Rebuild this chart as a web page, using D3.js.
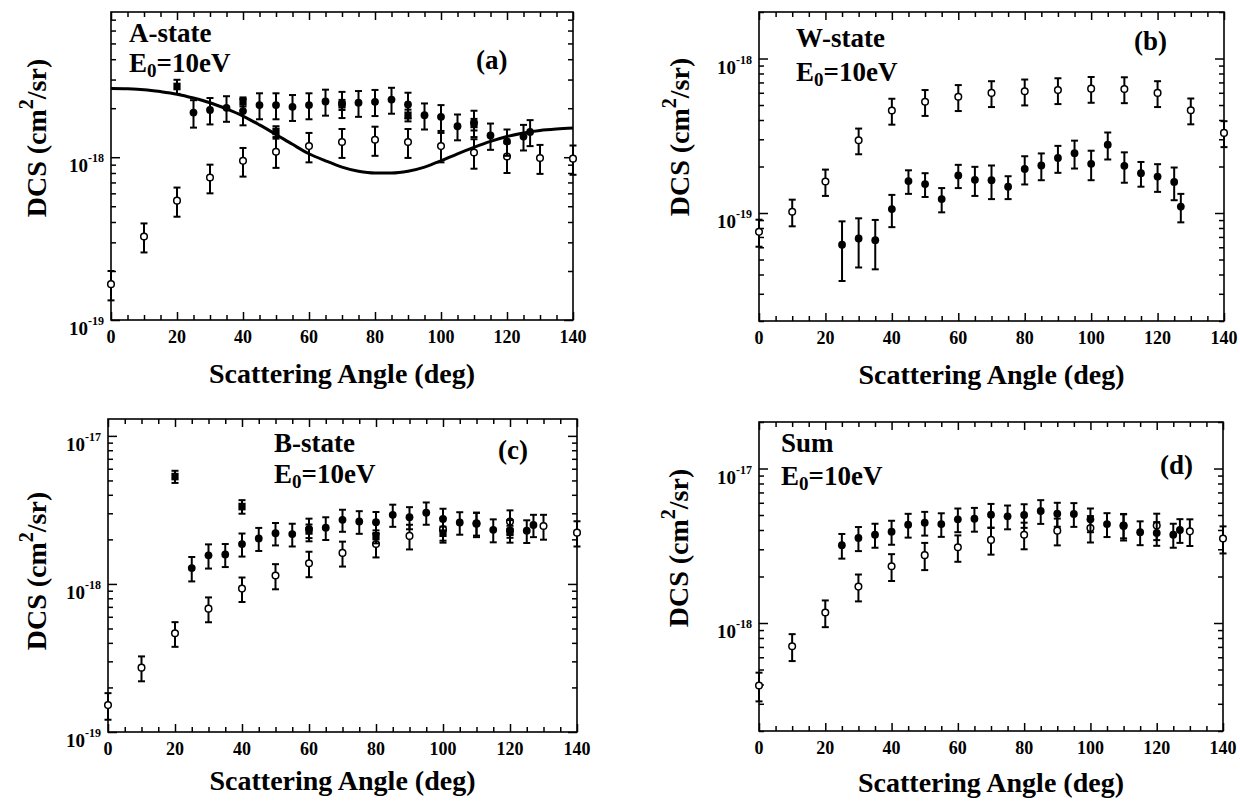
<!DOCTYPE html>
<html>
<head>
<meta charset="utf-8">
<script src="https://cdn.jsdelivr.net/npm/d3@7"></script>
<style>
  body { margin: 0; background: #fff; }
  svg { display: block; font-family: "Liberation Serif", "Times New Roman", serif; font-weight: bold; }
</style>
</head>
<body>
<svg id="fig" width="1240" height="801"></svg>
<script>
// ---- Scattering angles (deg) ----
const angleOpen   = [0, 10, 20, 30, 40, 50, 60, 70, 80, 90, 100, 110, 120, 130, 140];
const angleFilled = [25, 30, 35, 40, 45, 50, 55, 60, 65, 70, 75, 80, 85, 90, 95, 100, 105, 110, 115, 120, 125, 127];
const angleSquareA = [20, 40, 50, 70, 90, 110];
const angleSquareB = [20, 40, 60, 80, 100, 120];
const angleTheory = [0, 5, 10, 15, 20, 25, 30, 35, 40, 45, 50, 55, 60, 65, 70, 75, 80, 85, 90, 95, 100, 105, 110, 115, 120, 125, 130, 135, 140];

// ---- A-state DCS (cm^2/sr) ----
const aOpen     = [1.66e-19, 3.26e-19, 5.41e-19, 7.5e-19, 9.5e-19, 1.08e-18, 1.17e-18, 1.24e-18, 1.28e-18, 1.24e-18, 1.17e-18, 1.07e-18, 1.01e-18, 0.99e-18, 0.98e-18];
const aOpenErr  = [0.34e-19, 0.66e-19, 1.1e-19, 1.5e-19, 1.9e-19, 2.2e-19, 2.4e-19, 2.5e-19, 2.6e-19, 2.5e-19, 2.4e-19, 2.2e-19, 2.1e-19, 2.0e-19, 2.0e-19];
const aFilled    = [1.88e-18, 1.95e-18, 2.01e-18, 1.92e-18, 2.09e-18, 2.09e-18, 2.04e-18, 2.09e-18, 2.20e-18, 2.13e-18, 2.16e-18, 2.19e-18, 2.26e-18, 2.11e-18, 1.81e-18, 1.77e-18, 1.55e-18, 1.63e-18, 1.36e-18, 1.25e-18, 1.34e-18, 1.43e-18];
const aFilledErr = [0.36e-18, 0.36e-18, 0.36e-18, 0.35e-18, 0.38e-18, 0.38e-18, 0.37e-18, 0.38e-18, 0.40e-18, 0.39e-18, 0.39e-18, 0.40e-18, 0.41e-18, 0.38e-18, 0.33e-18, 0.32e-18, 0.28e-18, 0.30e-18, 0.25e-18, 0.23e-18, 0.24e-18, 0.26e-18];
const aSquare    = [2.72e-18, 2.19e-18, 1.44e-18, 2.10e-18, 1.81e-18, 1.59e-18];
const aSquareErr = [0.27e-18, 0.14e-18, 0.11e-18, 0.15e-18, 0.15e-18, 0.13e-18];
const aTheory = [2.64e-18, 2.63e-18, 2.60e-18, 2.53e-18, 2.44e-18, 2.31e-18, 2.16e-18, 1.98e-18, 1.79e-18, 1.58e-18, 1.38e-18, 1.20e-18, 1.05e-18, 0.95e-18, 0.87e-18, 0.82e-18, 0.80e-18, 0.80e-18, 0.82e-18, 0.87e-18, 0.95e-18, 1.05e-18, 1.15e-18, 1.25e-18, 1.34e-18, 1.41e-18, 1.46e-18, 1.49e-18, 1.51e-18];

// ---- W-state ----
const bOpen     = [0.755e-19, 1.02e-19, 1.60e-19, 2.96e-19, 4.61e-19, 5.25e-19, 5.65e-19, 5.99e-19, 6.14e-19, 6.26e-19, 6.38e-19, 6.35e-19, 5.99e-19, 4.63e-19, 3.30e-19];
const bOpenErr  = [0.15e-19, 0.20e-19, 0.31e-19, 0.56e-19, 0.88e-19, 1.0e-19, 1.08e-19, 1.14e-19, 1.17e-19, 1.19e-19, 1.21e-19, 1.21e-19, 1.14e-19, 0.88e-19, 0.63e-19];
const bFilled    = [0.623e-19, 0.684e-19, 0.667e-19, 1.06e-19, 1.61e-19, 1.54e-19, 1.23e-19, 1.75e-19, 1.64e-19, 1.63e-19, 1.48e-19, 1.93e-19, 2.03e-19, 2.27e-19, 2.44e-19, 2.08e-19, 2.77e-19, 2.02e-19, 1.81e-19, 1.72e-19, 1.59e-19, 1.10e-19];
const bFilledErr = [0.26e-19, 0.24e-19, 0.235e-19, 0.25e-19, 0.28e-19, 0.27e-19, 0.22e-19, 0.30e-19, 0.35e-19, 0.40e-19, 0.25e-19, 0.40e-19, 0.40e-19, 0.45e-19, 0.50e-19, 0.45e-19, 0.55e-19, 0.45e-19, 0.33e-19, 0.35e-19, 0.38e-19, 0.23e-19];

// ---- B-state ----
const cOpen     = [1.52e-19, 2.72e-19, 4.64e-19, 6.81e-19, 9.3e-19, 1.14e-18, 1.38e-18, 1.62e-18, 1.86e-18, 2.11e-18, 2.34e-18, 2.55e-18, 2.64e-18, 2.46e-18, 2.22e-18];
const cOpenErr  = [0.31e-19, 0.52e-19, 0.88e-19, 1.3e-19, 1.75e-19, 0.22e-18, 0.27e-18, 0.31e-18, 0.35e-18, 0.40e-18, 0.44e-18, 0.48e-18, 0.50e-18, 0.47e-18, 0.43e-18];
const cFilled    = [1.28e-18, 1.56e-18, 1.58e-18, 1.86e-18, 2.03e-18, 2.20e-18, 2.17e-18, 2.35e-18, 2.40e-18, 2.71e-18, 2.64e-18, 2.61e-18, 2.93e-18, 2.82e-18, 3.03e-18, 2.75e-18, 2.60e-18, 2.57e-18, 2.32e-18, 2.30e-18, 2.29e-18, 2.50e-18];
const cFilledErr = [0.24e-18, 0.29e-18, 0.28e-18, 0.33e-18, 0.36e-18, 0.38e-18, 0.38e-18, 0.41e-18, 0.42e-18, 0.46e-18, 0.46e-18, 0.45e-18, 0.50e-18, 0.48e-18, 0.52e-18, 0.47e-18, 0.45e-18, 0.45e-18, 0.41e-18, 0.40e-18, 0.40e-18, 0.43e-18];
const cSquare    = [5.31e-18, 3.33e-18, 2.28e-18, 2.09e-18, 2.20e-18, 2.26e-18];
const cSquareErr = [0.50e-18, 0.35e-18, 0.24e-18, 0.21e-18, 0.24e-18, 0.21e-18];

// ---- Sum ----
const dOpen     = [3.94e-19, 7.07e-19, 1.17e-18, 1.72e-18, 2.33e-18, 2.75e-18, 3.09e-18, 3.45e-18, 3.73e-18, 3.96e-18, 4.12e-18, 4.25e-18, 4.27e-18, 3.92e-18, 3.52e-18];
const dOpenErr  = [0.83e-19, 1.4e-19, 0.23e-18, 0.34e-18, 0.46e-18, 0.55e-18, 0.60e-18, 0.68e-18, 0.73e-18, 0.78e-18, 0.80e-18, 0.83e-18, 0.83e-18, 0.77e-18, 0.70e-18];
const dFilled    = [3.19e-18, 3.55e-18, 3.73e-18, 3.90e-18, 4.33e-18, 4.46e-18, 4.37e-18, 4.69e-18, 4.73e-18, 5.02e-18, 4.90e-18, 5.00e-18, 5.31e-18, 5.10e-18, 5.08e-18, 4.69e-18, 4.37e-18, 4.29e-18, 3.87e-18, 3.83e-18, 3.73e-18, 4.00e-18];
const dFilledErr = [0.58e-18, 0.63e-18, 0.66e-18, 0.69e-18, 0.76e-18, 0.78e-18, 0.76e-18, 0.82e-18, 0.83e-18, 0.88e-18, 0.86e-18, 0.87e-18, 0.93e-18, 0.90e-18, 0.89e-18, 0.82e-18, 0.77e-18, 0.76e-18, 0.68e-18, 0.67e-18, 0.66e-18, 0.70e-18];

// ---- Axis ticks ----
const xTickLabels = [0, 20, 40, 60, 80, 100, 120, 140];
const xMinorTicks = [5, 10, 15, 25, 30, 35, 45, 50, 55, 65, 70, 75, 85, 90, 95, 105, 110, 115, 125, 130, 135];

const zip = (xs, ys, es) => xs.map((a, i) => ({ a, v: ys[i], e: es ? es[i] : 0 }));

const panels = [
  { left: 111, right: 573, top: 12, bottom: 320, yDom: [1e-19, 7.8e-18],
    state: "A-state", tag: "(a)", stateX: 129, stateY: 42, energyY: 72, tagX: 476, tagY: 69,
    yTitleX: 46, yTitleY: 138, xTitleY: 383,
    open: zip(angleOpen, aOpen, aOpenErr), filled: zip(angleFilled, aFilled, aFilledErr),
    square: zip(angleSquareA, aSquare, aSquareErr), theory: zip(angleTheory, aTheory) },
  { left: 759, right: 1224, top: 12, bottom: 321, yDom: [2e-20, 2e-18],
    state: "W-state", tag: "(b)", stateX: 796, stateY: 47, energyY: 81, tagX: 1134, tagY: 50,
    yTitleX: 689, yTitleY: 137, xTitleY: 384,
    open: zip(angleOpen, bOpen, bOpenErr), filled: zip(angleFilled, bFilled, bFilledErr) },
  { left: 108, right: 577, top: 419, bottom: 732, yDom: [1e-19, 1.3e-17],
    state: "B-state", tag: "(c)", stateX: 274, stateY: 452, energyY: 483, tagX: 498, tagY: 459,
    yTitleX: 46, yTitleY: 571, xTitleY: 790,
    open: zip(angleOpen, cOpen, cOpenErr), filled: zip(angleFilled, cFilled, cFilledErr),
    square: zip(angleSquareB, cSquare, cSquareErr) },
  { left: 759, right: 1223, top: 422, bottom: 731, yDom: [2e-19, 2e-17],
    state: "Sum", tag: "(d)", stateX: 781, stateY: 452, energyY: 485, tagX: 1160, tagY: 474,
    yTitleX: 688, yTitleY: 548, xTitleY: 792,
    open: zip(angleOpen, dOpen, dOpenErr), filled: zip(angleFilled, dFilled, dFilledErr) }
];

const svg = d3.select("#fig");

function decadeTicks(dom) {
  const lo = dom[0] * (1 - 1e-9), hi = dom[1] * (1 + 1e-9);
  const major = [], minor = [];
  for (let e = Math.floor(Math.log10(dom[0])); e <= Math.floor(Math.log10(dom[1])); e++) {
    const base = Math.pow(10, e);
    if (base >= lo && base <= hi) major.push(base);
    for (let k = 2; k <= 9; k++) {
      const v = k * base;
      if (v >= lo && v <= hi) minor.push(v);
    }
  }
  return { major, minor };
}

function styleAxis(sel) {
  sel.select(".domain").remove();
  sel.selectAll(".tick line").attr("stroke", "#000").attr("stroke-width", 1.5);
  sel.selectAll(".tick text").remove();
}

function drawPanel(p) {
  const g = svg.append("g");
  const x = d3.scaleLinear().domain([0, 140]).range([p.left, p.right]);
  const y = d3.scaleLog().domain(p.yDom).range([p.bottom, p.top]);
  const yt = decadeTicks(p.yDom);

  // tick marks on all four sides, pointing inward
  [{ vals: xTickLabels, len: 8 }, { vals: xMinorTicks, len: 5 }].forEach(t => {
    g.append("g").attr("transform", `translate(0,${p.bottom})`)
      .call(d3.axisBottom(x).tickValues(t.vals).tickSizeInner(-t.len).tickSizeOuter(0)).call(styleAxis);
    g.append("g").attr("transform", `translate(0,${p.top})`)
      .call(d3.axisTop(x).tickValues(t.vals).tickSizeInner(-t.len).tickSizeOuter(0)).call(styleAxis);
  });
  [{ vals: yt.major, len: 9 }, { vals: yt.minor, len: 5 }].forEach(t => {
    g.append("g").attr("transform", `translate(${p.left},0)`)
      .call(d3.axisLeft(y).tickValues(t.vals).tickSizeInner(-t.len).tickSizeOuter(0)).call(styleAxis);
    g.append("g").attr("transform", `translate(${p.right},0)`)
      .call(d3.axisRight(y).tickValues(t.vals).tickSizeInner(-t.len).tickSizeOuter(0)).call(styleAxis);
  });

  // frame
  g.append("rect")
    .attr("x", p.left).attr("y", p.top)
    .attr("width", p.right - p.left).attr("height", p.bottom - p.top)
    .attr("fill", "none").attr("stroke", "#000").attr("stroke-width", 1.6);

  // x tick labels
  g.selectAll(".xl").data(xTickLabels).join("text")
    .attr("x", d => x(d)).attr("y", p.bottom + 23)
    .attr("text-anchor", "middle").attr("font-size", 18)
    .text(d => d);

  // y decade labels: 10 with superscript exponent
  yt.major.forEach(v => {
    const e = Math.round(Math.log10(v));
    const t = g.append("text")
      .attr("x", p.left - 7).attr("y", y(v) + 15)
      .attr("text-anchor", "end").attr("font-size", 19);
    t.append("tspan").text("10");
    t.append("tspan").attr("dy", -10).attr("font-size", 12).text("-" + Math.abs(e));
  });

  // axis titles
  g.append("text")
    .attr("x", (p.left + p.right) / 2).attr("y", p.xTitleY)
    .attr("text-anchor", "middle").attr("font-size", 28)
    .text("Scattering Angle (deg)");
  const yl = g.append("text")
    .attr("transform", `translate(${p.yTitleX},${p.yTitleY}) rotate(-90)`)
    .attr("text-anchor", "middle").attr("font-size", 28);
  yl.append("tspan").text("DCS (cm");
  yl.append("tspan").attr("dy", -13).attr("font-size", 20).text("2");
  yl.append("tspan").attr("dy", 13).text("/sr)");

  // state / energy / panel tag
  g.append("text").attr("x", p.stateX).attr("y", p.stateY).attr("font-size", 27).text(p.state);
  const en = g.append("text").attr("x", p.stateX).attr("y", p.energyY).attr("font-size", 27);
  en.append("tspan").text("E");
  en.append("tspan").attr("dy", 5).attr("font-size", 19).text("0");
  en.append("tspan").attr("dy", -5).text("=10eV");
  g.append("text").attr("x", p.tagX).attr("y", p.tagY).attr("font-size", 27).text(p.tag);

  // error bars
  function errorBars(data) {
    const cap = 3.5;
    const eb = g.append("g").attr("stroke", "#000").attr("stroke-width", 2).attr("fill", "none");
    data.forEach(d => {
      const y1 = y(d.v + d.e), y0 = y(Math.max(d.v - d.e, p.yDom[0] * 0.5));
      const cx = x(d.a);
      eb.append("line").attr("x1", cx).attr("x2", cx).attr("y1", y1).attr("y2", y0);
      eb.append("line").attr("x1", cx - cap).attr("x2", cx + cap).attr("y1", y1).attr("y2", y1);
      eb.append("line").attr("x1", cx - cap).attr("x2", cx + cap).attr("y1", y0).attr("y2", y0);
    });
  }

  // theory curve
  if (p.theory) {
    g.append("path").datum(p.theory)
      .attr("fill", "none").attr("stroke", "#000").attr("stroke-width", 3)
      .attr("d", d3.line().x(d => x(d.a)).y(d => y(d.v)).curve(d3.curveMonotoneX));
  }

  // open circles
  errorBars(p.open);
  g.selectAll(".open").data(p.open).join("circle")
    .attr("cx", d => x(d.a)).attr("cy", d => y(d.v)).attr("r", 3.3)
    .attr("fill", "#fff").attr("stroke", "#000").attr("stroke-width", 1.5);

  // filled circles
  errorBars(p.filled);
  g.selectAll(".filled").data(p.filled).join("circle")
    .attr("cx", d => x(d.a)).attr("cy", d => y(d.v)).attr("r", 3.9)
    .attr("fill", "#000");

  // filled squares
  if (p.square) {
    errorBars(p.square);
    g.selectAll(".sq").data(p.square).join("rect")
      .attr("x", d => x(d.a) - 3.6).attr("y", d => y(d.v) - 3.8)
      .attr("width", 7.2).attr("height", 7.6).attr("fill", "#000");
  }
}

panels.forEach(drawPanel);
</script>
</body>
</html>
